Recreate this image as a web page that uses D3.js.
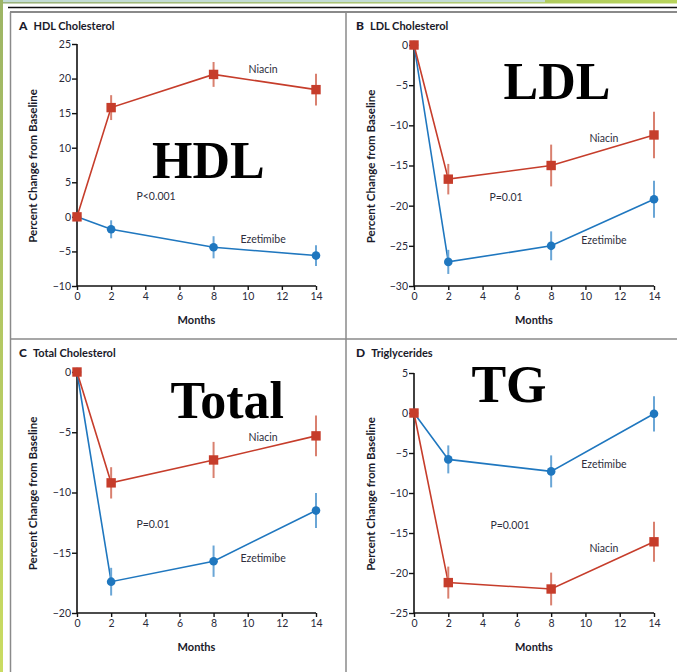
<!DOCTYPE html>
<html><head><meta charset="utf-8">
<script src="https://cdn.jsdelivr.net/npm/d3@7"></script>
<style>
html,body{margin:0;padding:0;background:#fff;}
svg{display:block;}
</style></head>
<body>
<svg id="chart" width="677" height="672"></svg>
<script>
// ---------- DATA ----------
const months = [0, 2, 8, 14];
const xTicks = [0, 2, 4, 6, 8, 10, 12, 14];

const hdlTicks = [-10, -5, 0, 5, 10, 15, 20, 25];
const hdlNiacin = [0, 15.8, 20.6, 18.4];
const hdlNiacinErr = [0, 1.8, 1.8, 2.3];
const hdlEzetimibe = [0, -1.8, -4.4, -5.6];
const hdlEzetimibeErr = [0, 1.3, 1.6, 1.5];

const ldlTicks = [-30, -25, -20, -15, -10, -5, 0];
const ldlNiacin = [0, -16.7, -15.0, -11.2];
const ldlNiacinErr = [0, 1.9, 2.6, 2.9];
const ldlEzetimibe = [0, -27.0, -25.0, -19.2];
const ldlEzetimibeErr = [0, 1.5, 1.8, 2.3];

const totTicks = [-20, -15, -10, -5, 0];
const totNiacin = [0, -9.2, -7.3, -5.3];
const totNiacinErr = [0, 1.3, 1.5, 1.7];
const totEzetimibe = [0, -17.4, -15.7, -11.5];
const totEzetimibeErr = [0, 1.15, 1.3, 1.45];

const tgTicks = [-25, -20, -15, -10, -5, 0, 5];
const tgNiacin = [0, -21.2, -22.0, -16.1];
const tgNiacinErr = [0, 2.0, 2.05, 2.5];
const tgEzetimibe = [0, -5.8, -7.3, -0.1];
const tgEzetimibeErr = [0, 1.75, 2.0, 2.2];

const panelLetters = ["A", "B", "C", "D"];
const panelTitles = ["HDL Cholesterol", "LDL Cholesterol", "Total Cholesterol", "Triglycerides"];
const bigLabels = ["HDL", "LDL", "Total", "TG"];
const pLabels = ["P<0.001", "P=0.01", "P=0.01", "P=0.001"];
const seriesNames = ["Niacin", "Ezetimibe"];

// ---------- STYLE / LAYOUT ----------
const RED = "#c63d2b", RED_ERR = "#d9806f";
const BLUE = "#1f77bf", BLUE_ERR = "#6aa6d6";
const TEXT = "#2e2e3c";
const FONT = "Lato, 'Open Sans', sans-serif";

const panels = [
  { x0: 77, x1: 316, yTop: 44, yBot: 286, ticks: hdlTicks,
    niacin: hdlNiacin, niacinErr: hdlNiacinErr, eze: hdlEzetimibe, ezeErr: hdlEzetimibeErr,
    titleY: 30, monthsY: 320, axisTitleX: 33,
    niacinLbl: [10.9, 21.4], ezeLbl: [10.9, -3.2], pLbl: [4.63, 3.0], big: [7.7, 5.6] },
  { x0: 414, x1: 654, yTop: 45, yBot: 286, ticks: ldlTicks,
    niacin: ldlNiacin, niacinErr: ldlNiacinErr, eze: ldlEzetimibe, ezeErr: ldlEzetimibeErr,
    titleY: 30, monthsY: 320, axisTitleX: 371,
    niacinLbl: [11.08, -11.6], ezeLbl: [11.08, -24.3], pLbl: [5.37, -18.9], big: [8.34, -6.7] },
  { x0: 77, x1: 316, yTop: 372, yBot: 613, ticks: totTicks,
    niacin: totNiacin, niacinErr: totNiacinErr, eze: totEzetimibe, ezeErr: totEzetimibeErr,
    titleY: 357, monthsY: 647, axisTitleX: 33,
    niacinLbl: [10.9, -5.4], ezeLbl: [10.9, -15.5], pLbl: [4.45, -12.6], big: [8.8, -3.85] },
  { x0: 414, x1: 654, yTop: 373, yBot: 613, ticks: tgTicks,
    niacin: tgNiacin, niacinErr: tgNiacinErr, eze: tgEzetimibe, ezeErr: tgEzetimibeErr,
    titleY: 357, monthsY: 647, axisTitleX: 371,
    niacinLbl: [11.08, -16.9], ezeLbl: [11.08, -6.4], pLbl: [5.6, -14.0], big: [5.54, 1.4] }
];

const svg = d3.select("#chart");

// ---------- FRAME DECORATION ----------
const defs = svg.append("defs");
const gTop = defs.append("linearGradient").attr("id", "gTop").attr("x1", "0").attr("x2", "1");
gTop.append("stop").attr("offset", "0").attr("stop-color", "#8fa868");
gTop.append("stop").attr("offset", "1").attr("stop-color", "#b8d45c");
const gLeft = defs.append("linearGradient").attr("id", "gLeft").attr("x1", "0").attr("x2", "0").attr("y1", "0").attr("y2", "1");
gLeft.append("stop").attr("offset", "0").attr("stop-color", "#9db565");
gLeft.append("stop").attr("offset", "1").attr("stop-color", "#cadc62");

svg.append("rect").attr("x", 0).attr("y", 0).attr("width", 677).attr("height", 3.5).attr("fill", "url(#gTop)");
svg.append("rect").attr("x", 3).attr("y", 0).attr("width", 542).attr("height", 2.2).attr("fill", "#c3dcd4");
svg.append("rect").attr("x", 0).attr("y", 0).attr("width", 3).attr("height", 672).attr("fill", "url(#gLeft)");

svg.append("line").attr("x1", 8).attr("x2", 677).attr("y1", 7.5).attr("y2", 7.5).attr("stroke", "#111").attr("stroke-width", 1.5);
svg.append("line").attr("x1", 10).attr("x2", 677).attr("y1", 12).attr("y2", 12).attr("stroke", "#8a8a8a").attr("stroke-width", 2);
svg.append("line").attr("x1", 10.5).attr("x2", 10.5).attr("y1", 12).attr("y2", 672).attr("stroke", "#8a8a8a").attr("stroke-width", 1.5);
svg.append("line").attr("x1", 346).attr("x2", 346).attr("y1", 12).attr("y2", 672).attr("stroke", "#8a8a8a").attr("stroke-width", 1.5);
svg.append("line").attr("x1", 10).attr("x2", 677).attr("y1", 339).attr("y2", 339).attr("stroke", "#8a8a8a").attr("stroke-width", 1.5);

// ---------- PANELS ----------
panels.forEach((p, i) => {
  const g = svg.append("g");
  const x = d3.scaleLinear().domain([0, 14]).range([p.x0, p.x1]);
  const y = d3.scaleLinear().domain([d3.min(p.ticks), d3.max(p.ticks)]).range([p.yBot, p.yTop]);

  // title
  const t = g.append("text").attr("x", p.x0 - 58).attr("y", p.titleY)
    .attr("font-family", FONT).attr("fill", "#1a1a2a");
  t.append("tspan").attr("font-weight", 900).attr("font-size", 12).text(panelLetters[i]);
  t.append("tspan").attr("dx", 6).attr("font-weight", 700).attr("font-size", 11).text(panelTitles[i]);

  // axes
  const fmt = d => (d < 0 ? "\u2212" + Math.abs(d) : String(d));
  const yAxis = g.append("g").attr("transform", `translate(${p.x0},0)`)
    .call(d3.axisLeft(y).tickValues(p.ticks).tickFormat(fmt).tickSize(5).tickPadding(1));
  const xAxis = g.append("g").attr("transform", `translate(0,${p.yBot})`)
    .call(d3.axisBottom(x).tickValues(xTicks).tickSize(4).tickPadding(3));
  [yAxis, xAxis].forEach(a => {
    a.select(".domain").attr("stroke", "#111").attr("stroke-width", 1.6);
    a.selectAll(".tick line").attr("stroke", "#111").attr("stroke-width", 1.4);
    a.selectAll(".tick text").attr("font-family", FONT).attr("font-size", 10.5).attr("fill", "#2a2a3a");
  });
  xAxis.select(".domain").attr("d", `M${p.x0},0H${p.x1}`);
  yAxis.select(".domain").attr("d", `M0,${p.yTop}V${p.yBot}`);

  // axis titles
  g.append("text").attr("x", (p.x0 + p.x1) / 2).attr("y", p.monthsY).attr("dy", "0.35em")
    .attr("text-anchor", "middle").attr("font-family", FONT).attr("font-weight", 700)
    .attr("font-size", 11).attr("fill", "#1a1a2a").text("Months");
  g.append("text")
    .attr("transform", `translate(${p.axisTitleX},${(p.yTop + p.yBot) / 2 + 1}) rotate(-90)`)
    .attr("dy", "0.35em").attr("text-anchor", "middle").attr("font-family", FONT).attr("font-weight", 700)
    .attr("font-size", 11.5).attr("fill", "#1a1a2a").text("Percent Change from Baseline");

  // series
  const series = [
    { vals: p.eze, errs: p.ezeErr, color: BLUE, errColor: BLUE_ERR, shape: "circle" },
    { vals: p.niacin, errs: p.niacinErr, color: RED, errColor: RED_ERR, shape: "square" }
  ];
  series.forEach(s => {
    const pts = months.map((m, k) => ({ m, v: s.vals[k], e: s.errs[k] }));
    g.append("path").datum(pts)
      .attr("d", d3.line().x(d => x(d.m)).y(d => y(d.v)))
      .attr("fill", "none").attr("stroke", s.color).attr("stroke-width", 1.6);
    g.selectAll(null).data(pts.filter(d => d.e > 0)).enter().append("line")
      .attr("x1", d => x(d.m)).attr("x2", d => x(d.m))
      .attr("y1", d => y(d.v + d.e)).attr("y2", d => y(d.v - d.e))
      .attr("stroke", s.errColor).attr("stroke-width", 2);
    if (s.shape === "circle") {
      g.selectAll(null).data(pts).enter().append("circle")
        .attr("cx", d => x(d.m)).attr("cy", d => y(d.v)).attr("r", 4.3).attr("fill", s.color);
    } else {
      g.selectAll(null).data(pts).enter().append("rect")
        .attr("x", d => x(d.m) - 4.7).attr("y", d => y(d.v) - 4.7)
        .attr("width", 9.4).attr("height", 9.4).attr("fill", s.color);
    }
  });

  // labels
  const lbl = (pos, txt) => g.append("text").attr("x", x(pos[0])).attr("y", y(pos[1])).attr("dy", "0.35em")
    .attr("text-anchor", "middle").attr("font-family", FONT).attr("font-size", 10.5).attr("fill", TEXT).text(txt);
  lbl(p.niacinLbl, seriesNames[0]);
  lbl(p.ezeLbl, seriesNames[1]);
  lbl(p.pLbl, pLabels[i]);

  g.append("text").attr("x", x(p.big[0])).attr("y", y(p.big[1]))
    .attr("text-anchor", "middle").attr("font-family", "'Liberation Serif', 'Times New Roman', serif")
    .attr("font-weight", 700).attr("font-size", 52).attr("fill", "#000").text(bigLabels[i]);
});
</script>
</body></html>
